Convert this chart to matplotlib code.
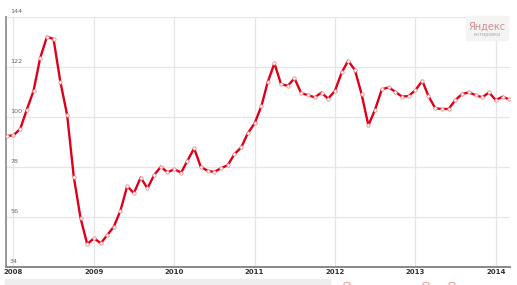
import matplotlib.pyplot as plt
import matplotlib.dates as mdates
import numpy as np
import pandas as pd
from matplotlib.patches import Rectangle, Circle

# monthly quotes, Dec 2007 .. Mar 2014
months = pd.date_range('2007-12-01', periods=76, freq='MS')
values = [
    91.5, 91.8, 94.7, 103.0, 111.3, 125.7, 135.2, 134.2, 115.4, 100.7, 73.6, 55.3,
    44.0, 46.5, 44.3, 47.8, 51.6, 58.6, 69.5, 66.3, 73.2, 68.5, 74.3, 78.0,
    75.5, 76.9, 75.4, 80.5, 86.1, 78.0, 76.2, 75.7, 77.3, 78.7, 83.5, 86.5,
    92.7, 97.1, 104.7, 115.1, 123.5, 114.3, 113.6, 116.9, 110.3, 109.5, 108.5, 110.6,
    107.9, 111.4, 119.5, 124.6, 120.5, 110.0, 96.2, 103.0, 112.0, 112.9, 111.0, 108.8,
    109.1, 111.7, 115.8, 109.1, 103.7, 103.4, 103.4, 107.3, 110.0, 110.7, 109.5, 108.5,
    110.7, 107.3, 108.8, 107.7,
]
y_ticks = [34, 56, 78, 100, 122, 144]
years = [2008, 2009, 2010, 2011, 2012, 2013, 2014]

fig = plt.figure(figsize=(5.17, 2.85), dpi=100)
ax = fig.add_axes([0.0116, 0.0642, 0.975, 0.8772])

ax.plot(months, values, color='#dd0018', lw=1.7, zorder=3,
        marker='o', ms=2.4, mfc='white', mec='#f08a8a', mew=0.6)

ax.set_ylim(34, 144)
ax.set_xlim(months[0] - pd.Timedelta(days=3), months[-1] + pd.Timedelta(days=6))

ax.set_yticks(y_ticks)
ax.set_yticklabels([])
ax.tick_params(axis='y', length=0)
for v in y_ticks:
    ax.text(0.008, v + 1.0, str(v), transform=ax.get_yaxis_transform(),
            fontsize=4.6, color='#666666', ha='left', va='bottom')

year_dates = [pd.Timestamp(f'{y}-01-01') for y in years]
ax.set_xticks(year_dates)
ax.set_xticklabels([str(y) for y in years], fontsize=5, color='#333333',
                   fontweight='bold')
ax.tick_params(axis='x', length=0, pad=2)

ax.grid(True, color='#e6e6e6', lw=0.9)
ax.set_axisbelow(True)
for s in ['top', 'right']:
    ax.spines[s].set_visible(False)
ax.spines['left'].set_color('#999999')
ax.spines['left'].set_linewidth(1.4)
ax.spines['bottom'].set_color('#888888')
ax.spines['bottom'].set_linewidth(1.4)

# navigator strip under the chart
fig.patches.append(Rectangle((5 / 517, 0), 325 / 517, 6 / 285, transform=fig.transFigure,
                             color='#eeeeee', zorder=0))
for px in [347, 426, 452]:
    fig.patches.append(Circle((px / 517, 1 / 285), 0.006, transform=fig.transFigure,
                              fill=False, ec='#f4a0a0', lw=0.8))

# Yandex logo box
fig.patches.append(Rectangle((466 / 517, 1 - 40 / 285), 42 / 517, 24 / 285,
                             transform=fig.transFigure, color='#f4f4f4', zorder=1))
fig.text(487 / 517, 1 - 27 / 285, 'Яндекс', fontsize=7, color='#c99090',
         ha='center', va='center')
fig.text(487 / 517, 1 - 35 / 285, 'котировки', fontsize=3.5, color='#aaaaaa',
         ha='center', va='center')

fig.savefig('out.png', dpi=100)
